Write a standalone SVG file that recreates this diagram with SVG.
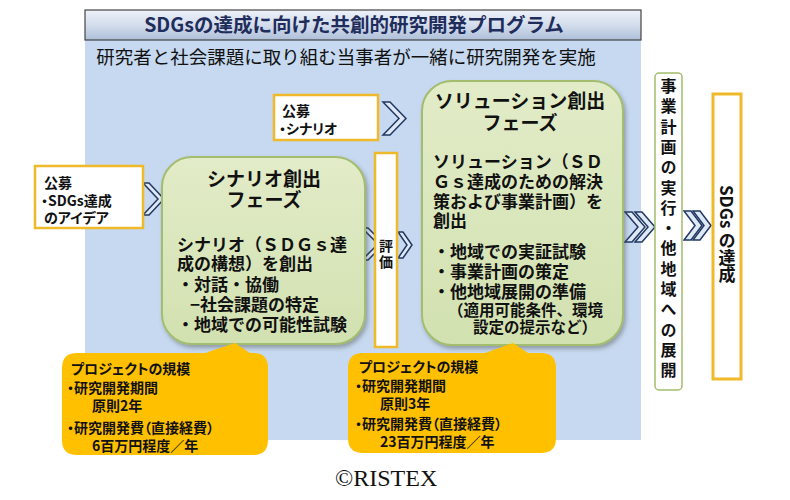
<svg xmlns="http://www.w3.org/2000/svg" width="790" height="500" viewBox="0 0 790 500">
<defs>
<linearGradient id="gTitle" x1="0" y1="0" x2="0" y2="1">
<stop offset="0" stop-color="#eef2f9"/>
<stop offset="0.5" stop-color="#d3ddec"/>
<stop offset="1" stop-color="#aebfd9"/>
</linearGradient>
<linearGradient id="gGreen" x1="0" y1="0" x2="0" y2="1">
<stop offset="0" stop-color="#e2ecc8"/>
<stop offset="1" stop-color="#d2e1b0"/>
</linearGradient>
<filter id="sh" x="-10%" y="-10%" width="120%" height="120%">
<feDropShadow dx="2" dy="3" stdDeviation="2" flood-color="#555" flood-opacity="0.45"/>
</filter>
<style>
.t{font-family:"Noto Sans CJK JP","Noto Sans",sans-serif;font-weight:bold;fill:#111}
.p{font-feature-settings:"palt"}
.w{fill:#fff;stroke:#f0b92a;stroke-width:2.5}
.ph{fill:url(#gGreen);stroke:#a3bd6e;stroke-width:2}
.co{fill:#ffc000}
.ch{fill:#dfe8f4;stroke:#1f3864;stroke-width:1.5;stroke-linejoin:miter}
.h{font-size:19px}
.b{font-size:17px}
.s{font-size:14px}
.c{font-size:14px}
</style>
</defs>
<rect width="790" height="500" fill="#fff"/>
<g id="panel">
<rect x="85" y="40" width="556" height="400" fill="#c6d9f0"/>
<rect x="85" y="10" width="556" height="30" fill="url(#gTitle)" stroke="#444" stroke-width="1.2"/>
<text x="354" y="32" text-anchor="middle" class="t" style="font-size:19.5px;fill:#1f2d5c">SDGsの達成に向けた共創的研究開発プログラム</text>
<text x="346" y="64" text-anchor="middle" class="t" style="font-size:18.5px;font-weight:normal">研究者と社会課題に取り組む当事者が一緒に研究開発を実施</text>
</g>
<g id="connectors">
<polygon class="ch" points="143,183 149,183 164,199 149,215 143,215 158,199"/>
<polygon class="ch" points="383,102 390,102 406,118.5 390,135 383,135 399,118.5"/>
<polygon class="ch" points="362,228 368,228 384,244 368,260 362,260 378,244"/>
<polygon class="ch" points="398,232 403,232 412,245 403,258 398,258 407,245"/>
<polygon class="ch" points="625,212 632,212 645,227 632,242 625,242 638,227"/>
<polygon class="ch" points="635,212 642,212 655,227 642,242 635,242 648,227"/>
<polygon class="ch" points="684,211 691,211 702,225.5 691,240 684,240 695,225.5"/>
<polygon class="ch" points="693,211 700,211 711,225.5 700,240 693,240 704,225.5"/>
</g>
<g id="koubo-idea">
<rect class="w" x="35" y="166" width="108" height="62"/>
<text class="t s p" x="44" y="188">公募<tspan x="41" dy="18">・SDGs達成</tspan><tspan x="44" dy="17">のアイデア</tspan></text>
</g>
<g id="koubo-scenario">
<rect class="w" x="274" y="95" width="104" height="45"/>
<text class="t s p" x="282" y="116">公募<tspan x="279" dy="18">・シナリオ</tspan></text>
</g>
<g id="scenario-phase">
<rect class="ph" filter="url(#sh)" x="162" y="157" width="203" height="187" rx="30"/>
<text class="t h" x="264" y="186" text-anchor="middle">シナリオ創出<tspan x="264" dy="21">フェーズ</tspan></text>
<text class="t b" x="177" y="251">シナリオ（ＳＤＧｓ達<tspan x="177" dy="19">成の構想）を創出</tspan><tspan x="177" dy="21">・対話・協働</tspan><tspan x="190" dy="20">−社会課題の特定</tspan><tspan x="177" dy="20">・地域での可能性試験</tspan></text>
</g>
<g id="hyouka">
<rect class="w" x="375" y="153" width="22" height="194"/>
<text class="t s" x="386" y="251" text-anchor="middle">評<tspan x="386" dy="16">価</tspan></text>
</g>
<g id="solution-phase">
<rect class="ph" filter="url(#sh)" x="422" y="81" width="201" height="264" rx="30"/>
<text class="t h" x="520" y="108" text-anchor="middle">ソリューション創出<tspan x="520" dy="22">フェーズ</tspan></text>
<text class="t b" x="433" y="168">ソリューション（ＳＤ<tspan x="433" dy="20">Ｇｓ達成のための解決</tspan><tspan x="433" dy="20">策および事業計画）を</tspan><tspan x="433" dy="19">創出</tspan><tspan x="433" dy="31">・地域での実証試験</tspan><tspan x="433" dy="20">・事業計画の策定</tspan><tspan x="433" dy="20">・他地域展開の準備</tspan><tspan x="448" dy="18" style="font-size:15.5px">（適用可能条件、環境</tspan><tspan x="473" dy="17" style="font-size:15.5px">設定の提示など）</tspan></text>
</g>
<g id="jigyou">
<rect x="655" y="73" width="27" height="317" rx="4" fill="#fff" stroke="#a3bd6e" stroke-width="1.5"/>
<text class="t" x="668.5" y="78" style="font-size:16px;writing-mode:vertical-rl;letter-spacing:4.3px">事業計画の実行・他地域への展開</text>
</g>
<g id="sdgs-goal">
<rect x="713" y="94" width="28" height="285" fill="#fff" stroke="#f0b92a" stroke-width="3"/>
<text class="t" x="727" y="185" style="font-size:17px;writing-mode:vertical-rl">SDGs の達成</text>
</g>
<g id="scale-1">
<path class="co" d="M77,353 H205 L235,343 L250,353 H253 Q268,353 268,368 V440 Q268,455 253,455 H77 Q62,455 62,440 V368 Q62,353 77,353 Z"/>
<text class="t c p" x="71" y="374">プロジェクトの規模<tspan x="67" dy="19">・研究開発期間</tspan><tspan x="92" dy="18">原則2年</tspan><tspan x="67" dy="22">・研究開発費（直接経費）</tspan><tspan x="92" dy="18">6百万円程度／年</tspan></text>
</g>
<g id="scale-2">
<path class="co" d="M363,353 H485 L513,343 L528,353 H541 Q556,353 556,368 V438 Q556,453 541,453 H363 Q348,453 348,438 V368 Q348,353 363,353 Z"/>
<text class="t c p" x="359" y="372">プロジェクトの規模<tspan x="355" dy="19">・研究開発期間</tspan><tspan x="380" dy="18">原則3年</tspan><tspan x="355" dy="20">・研究開発費（直接経費）</tspan><tspan x="380" dy="18">23百万円程度／年</tspan></text>
</g>
<text x="335" y="486" style="font-family:'Liberation Serif',serif;font-size:24px;fill:#111">©RISTEX</text>
</svg>
